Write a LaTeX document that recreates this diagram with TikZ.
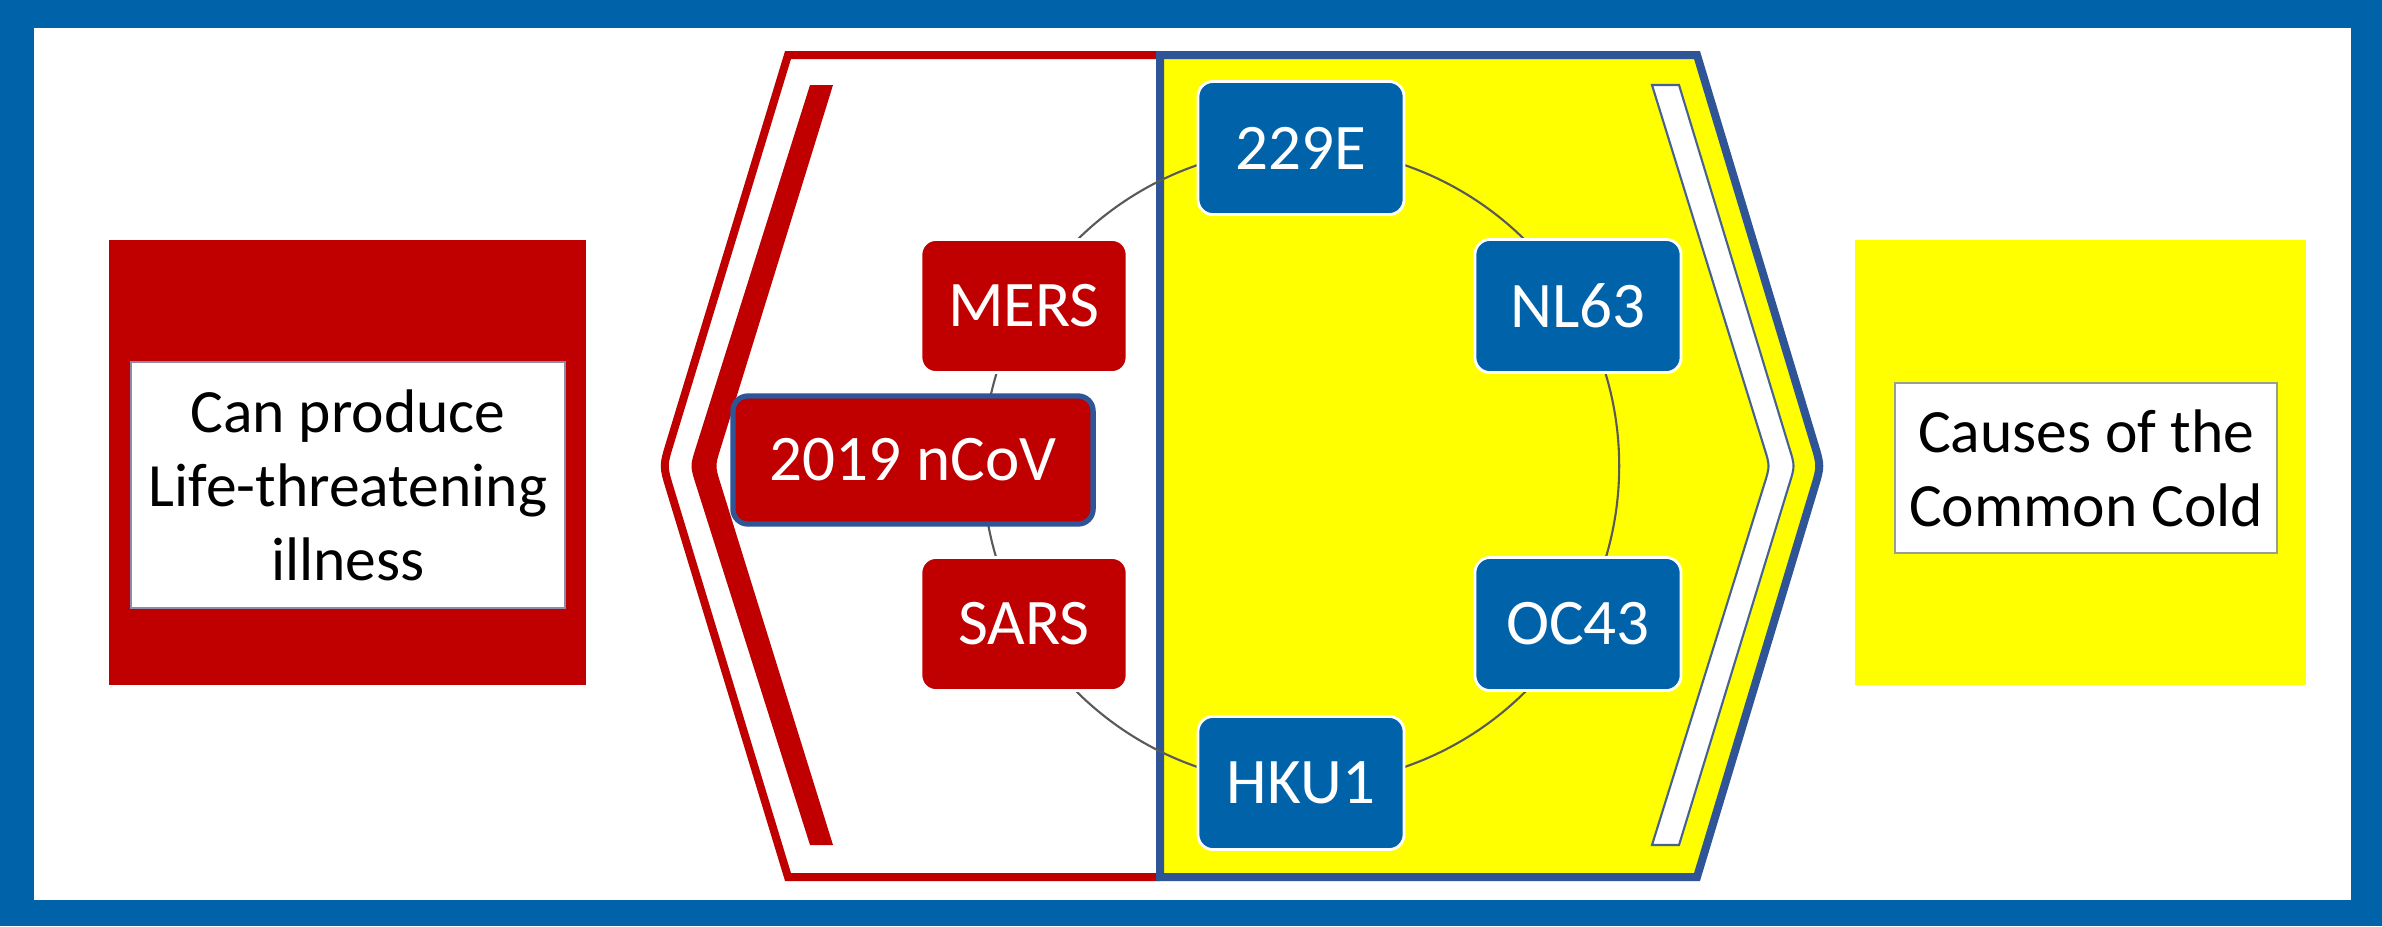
\documentclass[tikz,border=0pt]{standalone}
\usepackage{fontspec}
\setmainfont{Carlito}
\definecolor{frameblue}{RGB}{0,98,168}
\definecolor{cred}{RGB}{192,0,0}
\definecolor{cyellow}{RGB}{255,255,0}
\definecolor{steel}{RGB}{47,85,151}
\definecolor{lboxline}{RGB}{140,140,170}
\definecolor{rboxline}{RGB}{150,160,140}
\tikzset{
  textbox/.style={fill=white, line width=0.6pt, inner sep=0pt, align=center,
    text=black, font={\fontsize{17.5pt}{21pt}\selectfont}},
  virus/.style={rounded corners=0.15cm, minimum width=2.06cm, minimum height=1.33cm,
    inner sep=0pt, text=white, draw=white, line width=0.8pt,
    font={\fontsize{18.5pt}{22pt}\selectfont}},
  bluevirus/.style={virus, fill=frameblue},
  redvirus/.style={virus, fill=cred},
  ring/.style={draw=black!65, line width=0.6pt}
}
\begin{document}
\begin{tikzpicture}[x=0.01cm,y=-0.01cm]
\useasboundingbox (0,0) rectangle (2382,926);
% frame
\fill[frameblue] (0,0) rectangle (2382,926);
\fill[white] (34,28) rectangle (2351,900);
% left label box
\fill[cred] (109,240) rectangle (586,685);
\node[textbox, draw=lboxline, minimum width=4.34cm, minimum height=2.46cm] (lifebox) at (348,485)
  {Can produce\\Life-threatening\\illness};
% right label box
\fill[cyellow] (1855,240) rectangle (2306,685);
\node[textbox, draw=rboxline, minimum width=3.81cm, minimum height=1.70cm] (coldbox) at (2086,468)
  {Causes of the\\Common Cold};
% left half shape
\draw[cred, fill=white, line width=0.08cm, line join=miter]
  (1160,55) -- (788,55) -- (670,443) .. controls (663,466) .. (670,489) -- (788,877) -- (1160,877);
% right half shape
\draw[steel, fill=cyellow, line width=0.08cm, line join=miter]
  (1160,55) -- (1697,55) -- (1814,443) .. controls (1821,466) .. (1814,489) -- (1697,877) -- (1160,877) -- cycle;
% red chevron band
\fill[cred] (810,85) -- (696,447) .. controls (690,466) .. (696,485) -- (810,845)
  -- (833,845) -- (721,485) .. controls (715,466) .. (721,447) -- (833,85) -- cycle;
% white chevron band
\draw[fill=white, draw=steel!70!gray, line width=0.6pt]
  (1652,85) -- (1764,447) .. controls (1770,466) .. (1764,485) -- (1652,845)
  -- (1679,845) -- (1789,485) .. controls (1795,466) .. (1789,447) -- (1679,85) -- cycle;
% ring
\draw[ring] (1301,466) circle[radius=3.18cm];
% virus nodes
\node[bluevirus] (e229) at (1301,148) {229E};
\node[bluevirus] (nl63) at (1578,306) {NL63};
\node[bluevirus] (oc43) at (1578,624) {OC43};
\node[bluevirus] (hku1) at (1301,783) {HKU1};
\node[redvirus] (sars) at (1024,624) {SARS};
\node[redvirus] (mers) at (1024,306) {MERS};
\node[redvirus, draw=steel, line width=1.5pt, minimum width=3.6cm, minimum height=1.28cm] (ncov) at (913,460) {2019 nCoV};
\end{tikzpicture}
\end{document}
